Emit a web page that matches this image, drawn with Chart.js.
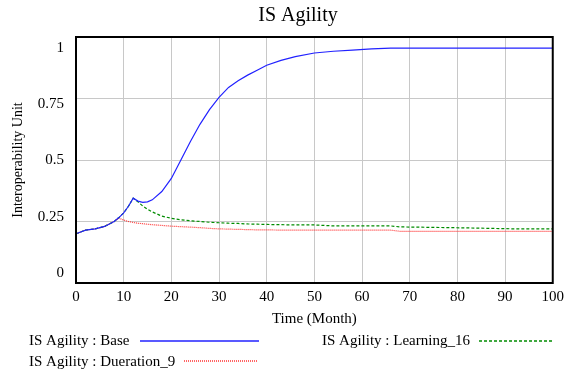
<!DOCTYPE html>
<html>
<head>
<meta charset="utf-8">
<script src="https://cdn.jsdelivr.net/npm/chart.js@4"></script>
<style>
    html, body { margin: 0; padding: 0; background: #fff; }
    #wrap { width: 569px; height: 374px; }
</style>
</head>
<body>
<div id="wrap"><canvas id="agilityChart"></canvas></div>
<script>
// Time axis (months) shared by the three runs
var months = [0, 2, 4, 6, 8, 9, 10, 11, 12, 13, 14, 15, 16, 18, 20, 22, 24, 26, 28, 30,
              32, 34, 36, 38, 40, 43, 46, 50, 54, 58, 62, 66, 68, 82, 92, 100];

// IS Agility : Base
var baseRun = [0.200, 0.215, 0.220, 0.230, 0.250, 0.266, 0.285, 0.312, 0.345, 0.333, 0.328, 0.330,
               0.338, 0.372, 0.425, 0.500, 0.575, 0.645, 0.705, 0.755, 0.795, 0.822, 0.845, 0.865,
               0.885, 0.905, 0.920, 0.935, 0.942, 0.947, 0.952, 0.955, 0.955, 0.955, 0.955, 0.955];

// IS Agility : Learning_16
var learningRun = [0.200, 0.215, 0.220, 0.230, 0.250, 0.266, 0.285, 0.312, 0.345, 0.330, 0.313, 0.300,
                   0.289, 0.272, 0.263, 0.257, 0.253, 0.250, 0.247, 0.245, 0.243, 0.242, 0.240, 0.239,
                   0.238, 0.237, 0.236, 0.236, 0.232, 0.232, 0.232, 0.232, 0.228, 0.224, 0.220, 0.220];

// IS Agility : Dueration_9
var durationRun = [0.200, 0.215, 0.220, 0.230, 0.250, 0.264, 0.256, 0.250, 0.246, 0.243, 0.241, 0.239,
                   0.237, 0.234, 0.231, 0.229, 0.227, 0.225, 0.222, 0.220, 0.219, 0.218, 0.217, 0.216,
                   0.216, 0.215, 0.215, 0.215, 0.215, 0.215, 0.215, 0.215, 0.210, 0.210, 0.210, 0.210];

// Tick labels
var xTickLabels = [0, 10, 20, 30, 40, 50, 60, 70, 80, 90, 100];
var yTickLabels = [0, 0.25, 0.5, 0.75, 1];

var serif = "'Liberation Serif', 'Times New Roman', serif";
var seriesColors = ['rgb(34, 34, 255)', 'rgb(0, 140, 0)', 'rgb(255, 51, 51)'];
var seriesDashes = [[], [3, 2], [1, 1]];

function toPoints(values) {
    return months.map(function(m, i) {
        return { x: m, y: values[i] };
    });
}

// Frame around the plot + legend with text before the line sample
var framePlugin = {
    id: 'frameAndLegend',
    afterLayout: function(chart) {
        // title sits a bit left of plot centre in the original
        var t = chart.titleBlock;
        if (t) {
            t.left += 17;
            t.right += 17;
        }
    },
    afterDraw: function(chart) {
        var ctx = chart.ctx;
        var area = chart.chartArea;
        ctx.save();
        ctx.strokeStyle = '#000';
        ctx.lineWidth = 2;
        ctx.strokeRect(area.left, area.top, area.right - area.left, area.bottom - area.top);

        var slots = [
            { text: { x: 29, y: 341 }, line: { x1: 140, x2: 259, y: 341 } },
            { text: { x: 322, y: 341 }, line: { x1: 479, x2: 554, y: 341 } },
            { text: { x: 29, y: 362 }, line: { x1: 184, x2: 258, y: 361 } }
        ];
        ctx.font = '15px ' + serif;
        ctx.textAlign = 'left';
        ctx.textBaseline = 'middle';
        chart.data.datasets.forEach(function(ds, i) {
            var s = slots[i];
            ctx.setLineDash([]);
            ctx.fillStyle = '#000';
            ctx.fillText(ds.label, s.text.x, s.text.y);

            ctx.beginPath();
            ctx.setLineDash(seriesDashes[i]);
            ctx.lineWidth = 1.5;
            ctx.strokeStyle = seriesColors[i];
            ctx.moveTo(s.line.x1, s.line.y);
            ctx.lineTo(s.line.x2, s.line.y);
            ctx.stroke();
        });
        ctx.restore();
    }
};

var ctx = document.getElementById('agilityChart').getContext('2d');
var agilityChart = new Chart(ctx, {
    type: 'line',
    data: {
        datasets: [
            {
                label: 'IS Agility : Base',
                data: toPoints(baseRun),
                borderColor: seriesColors[0],
                borderWidth: 1.2,
                borderDash: seriesDashes[0],
                pointRadius: 0,
                tension: 0
            },
            {
                label: 'IS Agility : Learning_16',
                data: toPoints(learningRun),
                borderColor: seriesColors[1],
                borderWidth: 1.2,
                borderDash: seriesDashes[1],
                pointRadius: 0,
                tension: 0
            },
            {
                label: 'IS Agility : Dueration_9',
                data: toPoints(durationRun),
                borderColor: seriesColors[2],
                borderWidth: 1.2,
                borderDash: seriesDashes[2],
                pointRadius: 0,
                tension: 0
            }
        ]
    },
    options: {
        responsive: true,
        maintainAspectRatio: false,
        animation: false,
        layout: {
            padding: { left: 6, right: 13, top: 0, bottom: 44 }
        },
        plugins: {
            legend: { display: false },
            tooltip: { enabled: false },
            title: {
                display: true,
                text: 'IS Agility',
                color: '#000',
                font: { family: serif, size: 20, weight: 'normal' },
                padding: { top: 4, bottom: 9 }
            }
        },
        scales: {
            x: {
                type: 'linear',
                min: 0,
                max: 100,
                grid: { color: '#c8c8c8', lineWidth: 1, drawTicks: false },
                border: { display: false },
                ticks: {
                    stepSize: 5,
                    autoSkip: false,
                    maxRotation: 0,
                    padding: 5,
                    color: '#000',
                    font: { family: serif, size: 15 },
                    callback: function(v) {
                        return xTickLabels.indexOf(v) >= 0 ? String(v) : null;
                    }
                },
                title: {
                    display: true,
                    text: 'Time (Month)',
                    color: '#000',
                    font: { family: serif, size: 15 },
                    padding: { top: 0, bottom: 2 }
                },
                afterFit: function(scale) { scale.height = 47; }
            },
            y: {
                position: 'left',
                min: 0,
                max: 1,
                grid: { color: '#c8c8c8', lineWidth: 1, drawTicks: false },
                border: { display: false },
                ticks: { display: false, stepSize: 0.25 },
                afterFit: function(scale) { scale.width = 0; }
            },
            yLabels: {
                // Vensim spreads the value labels a little off the grid lines
                position: 'left',
                min: -0.0444,
                max: 1.0489,
                grid: { display: false, drawTicks: false },
                border: { display: false },
                afterBuildTicks: function(scale) {
                    scale.ticks = yTickLabels.map(function(v) { return { value: v }; });
                },
                ticks: {
                    padding: 12,
                    color: '#000',
                    font: { family: serif, size: 15 },
                    callback: function(v) { return String(v); }
                },
                title: {
                    display: true,
                    text: 'Interoperability Unit',
                    color: '#000',
                    font: { family: serif, size: 14 },
                    padding: { top: 4, bottom: 4 }
                },
                afterFit: function(scale) { scale.width = 70; }
            }
        }
    },
    plugins: [framePlugin]
});
</script>
</body>
</html>
